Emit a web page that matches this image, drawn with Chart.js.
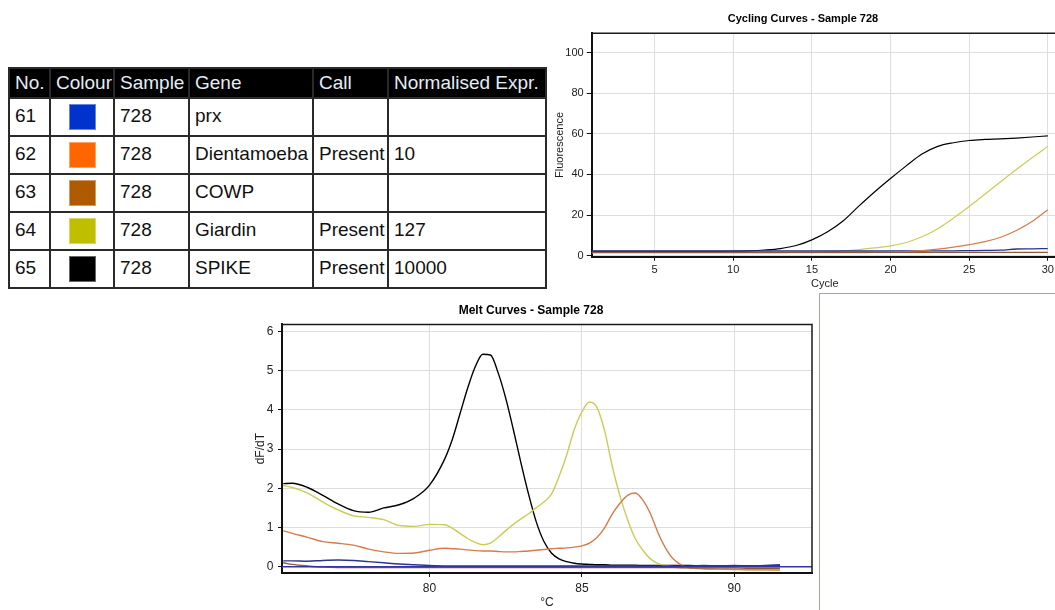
<!DOCTYPE html>
<html>
<head>
<meta charset="utf-8">
<script src="https://cdn.jsdelivr.net/npm/chart.js@4.4.0/dist/chart.umd.min.js"></script>
<style>
  body { margin: 0; width: 1055px; height: 610px; overflow: hidden; background: #fff; position: relative; font-family: "Liberation Sans", Arial, sans-serif; }
  #results { position: absolute; left: 8px; top: 67px; border-collapse: collapse; table-layout: fixed; font-size: 19px; }
  #results th, #results td { border: 2px solid #2a2a2a; padding: 0 0 0 5px; text-align: left; white-space: nowrap; overflow: hidden; }
  #results th { background: #000; color: #e4edf6; font-weight: normal; height: 28px; }
  #results td { color: #111; height: 33px; padding-bottom: 3px; }
  #results td.swatch { padding: 0; text-align: center; }
  .sq { display: inline-block; width: 25px; height: 24px; vertical-align: middle; border: 1px solid rgba(255,255,255,0.4); }
  .frame { position: absolute; border-color: #a8a498; border-style: solid; border-width: 1px 0 0 1px; }
  #cycling { position: absolute; left: 548px; top: 0; }
  #melt { position: absolute; left: 250px; top: 295px; }
</style>
</head>
<body>
<div class="frame" style="left:819px; top:293px; width:300px; height:400px;"></div>

<table id="results">
  <colgroup>
    <col style="width:41px"><col style="width:64px"><col style="width:75px">
    <col style="width:124px"><col style="width:75px"><col style="width:158px">
  </colgroup>
  <thead>
    <tr><th>No.</th><th>Colour</th><th>Sample</th><th>Gene</th><th>Call</th><th>Normalised Expr.</th></tr>
  </thead>
  <tbody id="resultRows"></tbody>
</table>

<canvas id="cycling" width="510" height="300"></canvas>
<canvas id="melt" width="563" height="315"></canvas>

<script>
// Tabela de resultados
const wellNo = [61, 62, 63, 64, 65];
const sampleIds = ['728', '728', '728', '728', '728'];
const genes = ['prx', 'Dientamoeba', 'COWP', 'Giardin', 'SPIKE'];
const calls = ['', 'Present', '', 'Present', 'Present'];
const normExpr = ['', '10', '', '127', '10000'];
const swatchColors = ['#0033cc', '#ff6600', '#b05a00', '#bfbf00', '#000000'];
const lineColors = ['#2a3590', '#d57b4c', '#8a5a3a', '#cccc55', '#000000'];

// Cycling curves (fluorescence por ciclo)
const cycles = [1, 2, 3, 4, 5, 6, 7, 8, 9, 10, 11, 12, 13, 14, 15, 16, 17, 18, 19, 20, 21, 22, 23, 24, 25, 26, 27, 28, 29, 30];
const cycPrx = [2.3, 2.3, 2.3, 2.3, 2.3, 2.3, 2.3, 2.3, 2.3, 2.3, 2.3, 2.3, 2.3, 2.3, 2.3, 2.3, 2.3, 2.3, 2.3, 2.3, 2.3, 2.3, 2.4, 2.4, 2.5, 2.6, 2.7, 3.3, 3.4, 3.5];
const cycDienta = [1.5, 1.5, 1.5, 1.5, 1.5, 1.5, 1.5, 1.5, 1.5, 1.5, 1.5, 1.5, 1.5, 1.5, 1.5, 1.5, 1.5, 1.5, 1.6, 1.8, 2.0, 2.5, 3.2, 4.2, 5.4, 6.9, 9.1, 12.4, 16.8, 22.6];
const cycCowp = [1.6, 1.6, 1.6, 1.6, 1.6, 1.6, 1.6, 1.6, 1.6, 1.6, 1.6, 1.6, 1.6, 1.6, 1.6, 1.6, 1.6, 1.6, 1.6, 1.6, 1.6, 1.6, 1.6, 1.6, 1.6, 1.6, 1.6, 1.6, 1.6, 1.6];
const cycGiardin = [1.5, 1.5, 1.5, 1.5, 1.5, 1.5, 1.5, 1.5, 1.5, 1.5, 1.5, 1.5, 1.5, 1.6, 1.7, 2.0, 2.4, 3.0, 3.8, 4.8, 6.5, 9.3, 13.3, 18.5, 24.2, 30.2, 36.4, 42.4, 48.2, 53.8];
const cycSpike = [2.1, 2.1, 2.1, 2.1, 2.1, 2.1, 2.1, 2.1, 2.1, 2.2, 2.4, 2.8, 3.5, 5.0, 7.8, 11.8, 17.2, 24.5, 31.5, 38.0, 44.2, 50.0, 53.8, 55.6, 56.7, 57.2, 57.5, 57.9, 58.4, 59.0];
const cycleTicks = [5, 10, 15, 20, 25, 30];
const fluorTicks = [0, 20, 40, 60, 80, 100];

// Melt curves (dF/dT por temperatura)
const temps = [75.2, 75.5, 76, 76.5, 77, 77.5, 78, 78.5, 79, 79.5, 80,
  80.5, 80.75, 81, 81.25, 81.5, 81.75, 82, 82.25, 82.5, 82.75, 83, 83.25, 83.5, 83.75, 84,
  84.25, 84.5, 84.75, 85, 85.25, 85.5, 85.75, 86, 86.25, 86.5, 86.75, 87, 87.25, 87.5, 87.75, 88,
  88.5, 89, 89.5, 90, 90.5, 91, 91.5];
const meltPrx = [0.15, 0.15, 0.14, 0.16, 0.17, 0.16, 0.13, 0.10, 0.07, 0.05, 0.03,
  0.02, 0.02, 0.02, 0.02, 0.02, 0.02, 0.02, 0.02, 0.02, 0.02, 0.02, 0.02, 0.02, 0.02, 0.02,
  0.02, 0.02, 0.02, 0.02, 0.02, 0.02, 0.02, 0.02, 0.02, 0.02, 0.02, 0.02, 0.02, 0.02, 0.02, 0.02,
  0.02, 0.03, 0.02, 0.03, 0.02, 0.03, 0.05];
const meltDienta = [0.92, 0.85, 0.75, 0.64, 0.60, 0.55, 0.45, 0.38, 0.34, 0.35, 0.42,
  0.47, 0.46, 0.45, 0.43, 0.41, 0.40, 0.40, 0.39, 0.38, 0.38, 0.39, 0.40, 0.42, 0.44, 0.46,
  0.47, 0.48, 0.50, 0.53, 0.60, 0.75, 1.00, 1.35, 1.62, 1.82, 1.88, 1.70, 1.35, 0.86, 0.47, 0.20,
  -0.02, -0.05, -0.06, -0.07, -0.08, -0.08, -0.08];
const meltCowp = [0.10, 0.06, 0.02, -0.01, -0.02, -0.02, -0.02, -0.02, -0.02, -0.02, -0.02,
  -0.02, -0.02, -0.02, -0.02, -0.02, -0.02, -0.02, -0.02, -0.02, -0.02, -0.02, -0.02, -0.02, -0.02, -0.02,
  -0.02, -0.02, -0.02, -0.02, -0.02, -0.02, -0.02, -0.02, -0.02, -0.02, -0.02, -0.02, -0.02, -0.02, -0.02, -0.02,
  -0.03, -0.03, -0.03, -0.03, -0.04, -0.04, -0.04];
const meltGiardin = [2.07, 2.02, 1.88, 1.65, 1.45, 1.30, 1.26, 1.20, 1.05, 1.03, 1.08,
  1.07, 0.98, 0.85, 0.72, 0.62, 0.56, 0.60, 0.75, 0.92, 1.08, 1.22, 1.35, 1.50, 1.65, 1.85,
  2.30, 2.85, 3.50, 3.95, 4.20, 4.05, 3.45, 2.55, 1.80, 1.20, 0.72, 0.42, 0.20, 0.08, 0.03, 0.00,
  -0.03, -0.05, -0.06, -0.06, -0.07, -0.07, -0.10];
const meltSpike = [2.12, 2.13, 2.02, 1.82, 1.60, 1.43, 1.39, 1.50, 1.58, 1.75, 2.08,
  2.75, 3.25, 3.90, 4.55, 5.10, 5.42, 5.40, 4.95, 4.30, 3.50, 2.65, 1.85, 1.15, 0.65, 0.35,
  0.20, 0.13, 0.09, 0.07, 0.06, 0.05, 0.05, 0.04, 0.04, 0.04, 0.04, 0.03, 0.03, 0.03, 0.03, 0.03,
  0.03, 0.02, 0.02, 0.02, 0.02, 0.02, 0.02];
const thresholdX = [75.16, 92.55];
const thresholdY = [0, 0];
const tempTicks = [80, 85, 90];
const dfdtTicks = [0, 1, 2, 3, 4, 5, 6];

// Monta as linhas da tabela
const tbody = document.getElementById('resultRows');
wellNo.forEach((n, i) => {
  const tr = document.createElement('tr');
  tr.innerHTML = `<td>${n}</td><td class="swatch"><span class="sq" style="background:${swatchColors[i]}"></span></td>` +
    `<td>${sampleIds[i]}</td><td>${genes[i]}</td><td>${calls[i]}</td><td>${normExpr[i]}</td>`;
  tbody.appendChild(tr);
});

// Moldura do gráfico (topo e direita)
const framePlugin = {
  id: 'frame',
  afterDraw(chart) {
    const { ctx, chartArea: a } = chart;
    ctx.save();
    ctx.strokeStyle = '#1a1a1a';
    ctx.lineWidth = 1.5;
    ctx.beginPath();
    ctx.moveTo(a.left, a.top);
    ctx.lineTo(a.right, a.top);
    ctx.lineTo(a.right, a.bottom);
    ctx.stroke();
    ctx.restore();
  }
};

function toPoints(xs, ys) {
  return xs.map((x, i) => ({ x: x, y: ys[i] }));
}

function series(xs, ys, color, width) {
  return {
    data: toPoints(xs, ys),
    borderColor: color,
    borderWidth: width,
    pointRadius: 0,
    cubicInterpolationMode: 'monotone',
    fill: false
  };
}

function axis(opts) {
  return {
    type: 'linear',
    min: opts.min,
    max: opts.max,
    afterBuildTicks: (s) => { s.ticks = opts.ticks.map((v) => ({ value: v })); },
    afterFit: (s) => { if (opts.width) s.width = opts.width; if (opts.height) s.height = opts.height; },
    grid: { color: '#dedede', lineWidth: 1, tickLength: opts.tickLength, tickColor: '#111' },
    border: { color: '#111', width: 2 },
    ticks: { color: '#222', padding: opts.padding, font: { family: 'Liberation Sans', size: opts.size } },
    title: {
      display: true,
      text: opts.title,
      color: '#222',
      font: { family: 'Liberation Sans', size: opts.size },
      padding: opts.titlePadding
    }
  };
}

function chartTitle(text, size, padding) {
  return {
    display: true,
    text: text,
    color: '#000',
    font: { family: 'Liberation Sans', size: size, weight: 'bold' },
    padding: padding
  };
}

const cyclingDatasets = [
  series(cycles, cycCowp, lineColors[2], 1.3),
  series(cycles, cycDienta, lineColors[1], 1.2),
  series(cycles, cycPrx, lineColors[0], 1.3),
  series(cycles, cycGiardin, lineColors[3], 1.2),
  series(cycles, cycSpike, lineColors[4], 1.2)
];

new Chart(document.getElementById('cycling'), {
  type: 'line',
  data: { datasets: cyclingDatasets },
  options: {
    responsive: false,
    animation: false,
    devicePixelRatio: 1,
    layout: { padding: 0 },
    plugins: {
      legend: { display: false },
      tooltip: { enabled: false },
      title: chartTitle('Cycling Curves - Sample 728', 11, { top: 12, bottom: 8 })
    },
    scales: {
      x: axis({ min: 1, max: 30.65, ticks: cycleTicks, height: 43.3, tickLength: 4, padding: 3, size: 11,
        title: 'Cycle', titlePadding: { top: 0, bottom: 9 } }),
      y: axis({ min: -0.5, max: 109.5, ticks: fluorTicks, width: 43.7, tickLength: 5, padding: 3, size: 11,
        title: 'Fluorescence', titlePadding: { top: 5, bottom: 0 } })
    }
  },
  plugins: [framePlugin]
});

const meltDatasets = [
  series(thresholdX, thresholdY, '#3434a8', 1.3),
  series(temps, meltCowp, lineColors[2], 1.4),
  series(temps, meltPrx, lineColors[0], 1.4),
  series(temps, meltDienta, lineColors[1], 1.4),
  series(temps, meltGiardin, lineColors[3], 1.4),
  series(temps, meltSpike, lineColors[4], 1.4)
];

new Chart(document.getElementById('melt'), {
  type: 'line',
  data: { datasets: meltDatasets },
  options: {
    responsive: false,
    animation: false,
    devicePixelRatio: 1,
    layout: { padding: { left: 0, right: 1, top: 0, bottom: 0 } },
    plugins: {
      legend: { display: false },
      tooltip: { enabled: false },
      title: chartTitle('Melt Curves - Sample 728', 12, { top: 8, bottom: 7 })
    },
    scales: {
      x: axis({ min: 75.16, max: 92.55, ticks: tempTicks, height: 37, tickLength: 4, padding: 4, size: 12,
        title: '°C', titlePadding: { top: 0, bottom: 0 } }),
      y: axis({ min: -0.16, max: 6.18, ticks: dfdtTicks, width: 32, tickLength: 4, padding: 4.5, size: 12,
        title: 'dF/dT', titlePadding: { top: 3, bottom: 0 } })
    }
  },
  plugins: [framePlugin]
});
</script>
</body>
</html>
